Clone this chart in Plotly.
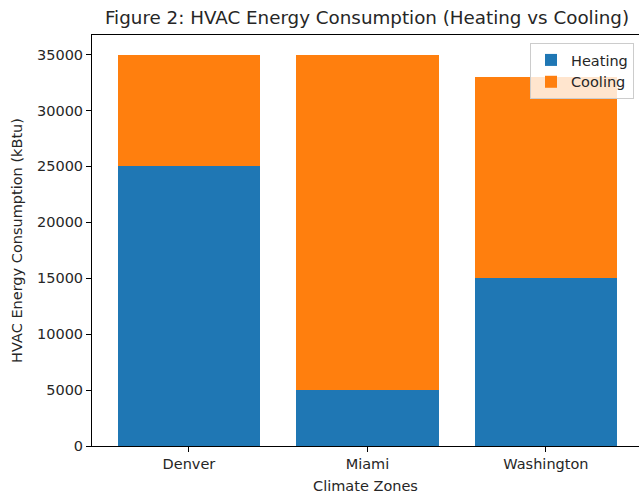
import plotly.graph_objects as go

zones = ["Denver", "Miami", "Washington"]
heating = [25000, 5000, 15000]
cooling = [10000, 30000, 18000]

font = "DejaVu Sans"
W, H = 639, 496
L, R, T, B = 92, 0, 35, 50
fig = go.Figure()
fig.add_trace(go.Bar(x=zones, y=heating, name="Heating", marker=dict(color="#1f77b4", line=dict(width=0)), width=0.8))
fig.add_trace(go.Bar(x=zones, y=cooling, name="Cooling", marker=dict(color="#ff7f0e", line=dict(width=0)), width=0.8))

pw, ph = W - L - R, H - T - B
fig.update_layout(
    barmode="stack",
    width=W, height=H,
    margin=dict(l=L, r=R, t=T, b=B, autoexpand=False),
    paper_bgcolor="white", plot_bgcolor="white",
    font=dict(family=font, size=14, color="#262626"),
    title=dict(text="Figure 2: HVAC Energy Consumption (Heating vs Cooling)",
               x=367 / W, xanchor="center", y=1 - 18 / H, yanchor="middle", yref="container",
               font=dict(size=18.3, color="#262626", family=font)),
    showlegend=True,
    legend=dict(x=(634 - L) / pw, xanchor="right", y=1 - 8 / ph, yanchor="top",
                bgcolor="rgba(255,255,255,0.8)", bordercolor="#cccccc", borderwidth=1,
                font=dict(size=14.5, family=font, color="#262626"), traceorder="normal",
                itemwidth=30, tracegroupgap=0),
    bargap=0.2,
)
fig.update_xaxes(range=[-0.543, -0.543 + pw / 178.5], showline=True, linecolor="black", linewidth=1, mirror=True,
                 ticks="outside", ticklen=5, tickcolor="black", showgrid=False, automargin=False,
                 title=dict(text="Climate Zones", font=dict(size=14.5, family=font), standoff=9),
                 tickfont=dict(size=14.5, family=font))
fig.update_yaxes(range=[0, 36750], showline=True, linecolor="black", linewidth=1, mirror=False,
                 ticks="outside", ticklen=5, tickcolor="black", showgrid=False, zeroline=False, automargin=False,
                 tickvals=[0, 5000, 10000, 15000, 20000, 25000, 30000, 35000],
                 ticktext=["0", "5000", "10000", "15000", "20000", "25000", "30000", "35000"],
                 title=dict(text="HVAC Energy Consumption (kBtu)", font=dict(size=14.5, family=font), standoff=10),
                 tickfont=dict(size=14.5, family=font))

fig.write_html("out.html", config={"displayModeBar": False},
               post_script="document.body.style.margin='0';")
